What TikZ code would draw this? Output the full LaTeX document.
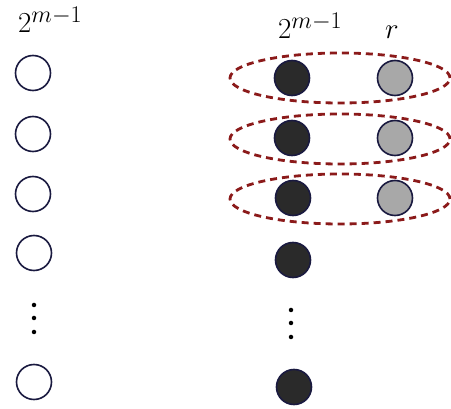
\RequirePackage{fix-cm}
\documentclass[tikz,border=0pt]{standalone}
\usetikzlibrary{shapes.geometric}
\DeclareMathSizes{29}{29}{24}{20}
\begin{document}
\begin{tikzpicture}[x=1pt,y=-1pt,
  lbl/.style={font=\fontsize{29}{34}\selectfont,inner sep=0pt},
  empty/.style={circle,draw=circ,line width=1.6pt,minimum size=35pt,inner sep=0pt},
  dark/.style={empty,fill=darkfill},
  grey/.style={empty,fill=greyfill},
  dot/.style={circle,fill=black,minimum size=4.5pt,inner sep=0pt},
  group/.style={ellipse,draw=groupred,dash pattern=on 7pt off 5pt,line width=2.8pt,minimum width=220pt,minimum height=50pt,inner sep=0pt}
]
\definecolor{circ}{HTML}{1A1A40}
\definecolor{darkfill}{HTML}{2A2A2A}
\definecolor{greyfill}{HTML}{A8A8A8}
\definecolor{groupred}{HTML}{8B1A1A}
\useasboundingbox (0,0) rectangle (451,409);
% labels
\node[lbl,anchor=base west] (lab1) at (18,33) {$2^{m-1}$};
\node[lbl,anchor=base west] (lab2) at (278,39) {$2^{m-1}$};
\node[lbl,anchor=base] (lab3) at (392,39) {$r$};
% left column
\node[empty] (l1) at (33,73) {};
\node[empty] (l2) at (33,134) {};
\node[empty] (l3) at (33,194) {};
\node[empty] (l4) at (34,253) {};
\node[dot] (ld1) at (34,305) {};
\node[dot] (ld2) at (34,318) {};
\node[dot] (ld3) at (34,332) {};
\node[empty] (l5) at (34,382) {};
% ellipses
\node[group] (g1) at (340,78) {};
\node[group] (g2) at (340,139) {};
\node[group] (g3) at (340,199) {};
% right columns
\node[dark] (b1) at (292,78) {};
\node[dark] (b2) at (292,138) {};
\node[dark] (b3) at (293,198) {};
\node[dark] (b4) at (293,260) {};
\node[dot] (rd1) at (291,310) {};
\node[dot] (rd2) at (291,323) {};
\node[dot] (rd3) at (291,337) {};
\node[dark] (b5) at (294,387) {};
\node[grey] (c1) at (395,78) {};
\node[grey] (c2) at (395,138) {};
\node[grey] (c3) at (395,198) {};
\end{tikzpicture}
\end{document}
